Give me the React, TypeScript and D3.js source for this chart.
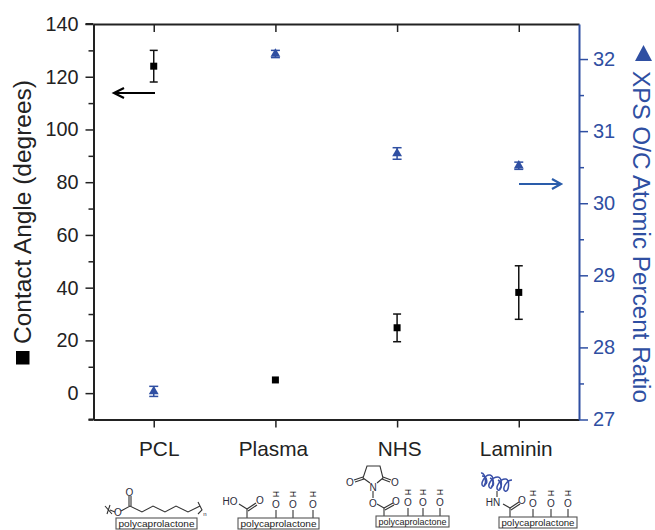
import React, { useEffect, useRef } from 'react';
import * as d3 from 'd3';

const categories = ['PCL', 'Plasma', 'NHS', 'Laminin'];
const contactAngle = [124, 5, 24.8, 38.2];
const contactErrLow = [118, 5, 19.5, 28];
const contactErrHigh = [130, 5, 30, 48.3];
const xpsRatio = [27.39, 32.07, 30.69, 30.52];
const xpsErrLow = [27.32, 32.02, 30.61, 30.47];
const xpsErrHigh = [27.46, 32.12, 30.77, 30.57];
const leftTicks = [0, 20, 40, 60, 80, 100, 120, 140];
const leftMinor = [-10, 10, 30, 50, 70, 90, 110, 130];
const rightTicks = [27, 28, 29, 30, 31, 32];
const rightMinor = [27.5, 28.5, 29.5, 30.5, 31.5];
// the category labels sit a little off their ticks in the original
const labelNudge = [5, -2.5, 2, -3];

const INK = '#222';
const BLUE = '#2f4fa2';
const ARROW_BLUE = '#2a5caa';
const FONT = '"Liberation Sans", Arial, sans-serif';

const margin = { top: 24, right: 76, bottom: 110.5, left: 93.5 };
const width = 655;
const height = 530;

// the little polymer sketches under the axis, in page pixels
function Chem({ x, y, lines, labels, box }: any) {
  return (
    <g transform={`translate(${x},${y})`} fill="none" stroke="#333" strokeWidth={1.1}>
      {lines.map((l: string, i: number) => <path key={i} d={l} />)}
      <rect x={box[0]} y={box[1]} width={box[2]} height={box[3]} fill="#fff" stroke="#555" strokeWidth={1.1} />
      <text x={box[0] + box[2] / 2} y={box[1] + box[3] - 2.4} textAnchor="middle" fontSize={9.8} fontFamily={FONT} fill="#222" stroke="none"
        textLength={box[2] - 5} lengthAdjust="spacingAndGlyphs">
        polycaprolactone
      </text>
      {labels.map((t: any, i: number) => (
        <text key={i} x={t[1]} y={t[2]} textAnchor="middle" fontSize={t[3] || 10} fontFamily={FONT} fill={t[4] || '#2b2b3a'} stroke="none"
          transform={t[5] ? `rotate(${t[5]} ${t[1]} ${t[2] - 3})` : undefined}>{t[0]}</text>
      ))}
    </g>
  );
}

function hydroxyls(xs: number[], base: number) {
  return xs.map((v) => `M${v},${base}V${base - 8}`);
}
function hydroxylLabels(xs: number[], base: number) {
  const out: any[] = [];
  xs.forEach((v) => {
    out.push(['O', v, base - 10.5, 10]);
    out.push(['H', v, base - 21, 8.5, '#111', 90]);
  });
  return out;
}

export default function App() {
  const ref = useRef<SVGGElement>(null);

  useEffect(() => {
    const root = d3.select(ref.current);
    root.selectAll('*').remove();

    const innerW = width - margin.left - margin.right;
    const innerH = height - margin.top - margin.bottom;

    const x = d3.scalePoint<string>().domain(categories).range([0, innerW]).padding(0.495);
    const yLeft = d3.scaleLinear().domain([-10, 140]).range([innerH, 0]);
    const yRight = d3.scaleLinear().domain([27, 32.486]).range([innerH, 0]);

    const plot = root.append('g').attr('transform', `translate(${margin.left},${margin.top})`);

    const style = (g: any, color: string, size: number) => {
      g.selectAll('path').attr('stroke', color).attr('stroke-width', 2);
      g.selectAll('line').attr('stroke', color).attr('stroke-width', 1.5);
      g.selectAll('text').attr('fill', color).attr('font-size', size).attr('font-family', FONT);
    };

    // left axis
    const gl = plot.append('g').call(d3.axisLeft(yLeft).tickValues(leftTicks).tickSize(8).tickSizeOuter(0).tickPadding(7).tickFormat(d3.format('d') as any));
    style(gl, INK, 19.8);
    const glm = plot.append('g').call(d3.axisLeft(yLeft).tickValues(leftMinor).tickSize(5).tickSizeOuter(0).tickFormat(() => ''));
    style(glm, INK, 20);
    glm.select('.domain').remove();

    // bottom and top axes
    const gb = plot.append('g').attr('transform', `translate(0,${innerH})`)
      .call(d3.axisBottom(x).tickSize(8).tickSizeOuter(0).tickPadding(14));
    style(gb, INK, 20.8);
    gb.selectAll('.tick text').attr('dx', (_: any, i: number) => labelNudge[i]);
    const gt = plot.append('g').call(d3.axisTop(x).tickSize(-8).tickSizeOuter(0).tickFormat(() => ''));
    style(gt, INK, 18);
    plot.append('line').attr('x1', -8).attr('x2', 0).attr('y1', 0).attr('y2', 0).attr('stroke', INK).attr('stroke-width', 2);
    plot.append('line').attr('x1', -5).attr('x2', 0).attr('y1', innerH).attr('y2', innerH).attr('stroke', INK).attr('stroke-width', 2);

    // right axis, blue
    const gr = plot.append('g').attr('transform', `translate(${innerW},0)`)
      .call(d3.axisRight(yRight).tickValues(rightTicks).tickSize(9).tickSizeOuter(0).tickPadding(5).tickFormat(d3.format('d') as any));
    style(gr, BLUE, 20);
    const grm = plot.append('g').attr('transform', `translate(${innerW},0)`)
      .call(d3.axisRight(yRight).tickValues(rightMinor).tickSize(5).tickSizeOuter(0).tickFormat(() => ''));
    style(grm, BLUE, 20);
    grm.select('.domain').remove();

    // error bars
    const errorBars = (low: number[], high: number[], y: any, color: string, cap: number, w: number) => {
      const g = plot.append('g').attr('stroke', color).attr('stroke-width', w);
      categories.forEach((c, i) => {
        if (low[i] === high[i]) return;
        const cx = x(c) as number;
        g.append('line').attr('x1', cx).attr('x2', cx).attr('y1', y(low[i])).attr('y2', y(high[i]));
        [low[i], high[i]].forEach((v) => {
          g.append('line').attr('x1', cx - cap).attr('x2', cx + cap).attr('y1', y(v)).attr('y2', y(v));
        });
      });
    };
    errorBars(contactErrLow, contactErrHigh, yLeft, '#111', 4, 1.5);
    errorBars(xpsErrLow, xpsErrHigh, yRight, BLUE, 4.5, 1.5);

    // markers
    plot.append('g').selectAll('rect').data(categories).join('rect')
      .attr('x', (c) => (x(c) as number) - 3.5)
      .attr('y', (_, i) => yLeft(contactAngle[i]) - 3.5)
      .attr('width', 7).attr('height', 7).attr('fill', '#000');
    const tri = d3.symbol().type(d3.symbolTriangle).size(42);
    plot.append('g').selectAll('path').data(categories).join('path')
      .attr('d', () => tri() as string)
      .attr('transform', (c, i) => `translate(${x(c)},${yRight(xpsRatio[i])})`)
      .attr('fill', BLUE);
  }, []);

  return (
    <svg width={width} height={height} style={{ position: 'absolute', left: 0, top: 0, background: '#fff' }}>
      <g ref={ref} />

      {/* annotation arrows */}
      <g fill="none" strokeWidth={2.2}>
        <path d="M155,93H114M124,88L114,93L124,98" stroke="#000" />
        <path d="M519,184H560M552,179L561,184L552,189" stroke={ARROW_BLUE} />
      </g>

      {/* axis titles */}
      <rect x={16} y={351} width={13.5} height={13.5} fill="#000" />
      <text transform="translate(30.5,344) rotate(-90)" fontFamily={FONT} fontSize={23} fill={INK} textLength={264} lengthAdjust="spacingAndGlyphs">Contact Angle (degrees)</text>
      <path d="M643.5,45L652,61H635Z" fill={BLUE} />
      <text transform="translate(633,71) rotate(90)" fontFamily={FONT} fontSize={24.4} fill={BLUE} textLength={332} lengthAdjust="spacingAndGlyphs">XPS O/C Atomic Percent Ratio</text>

      {/* PCL */}
      <Chem x={90} y={440} box={[26, 78, 81, 11]}
        lines={[
          'M15,66L22,74M20,65L17,74', 'M20,70L25,72', 'M31,71L40,66L52,72L63,66L75,72L86,66L98,72L110,66',
          'M39,66V56M41,66V56', 'M108,62L112,70L108,74',
        ]}
        labels={[['O', 28, 76], ['O', 39.5, 55.5], ['n', 115, 76, 6]]} />

      {/* Plasma */}
      <Chem x={90} y={440} box={[148, 78, 81, 11]}
        lines={[
          'M157,78V69', 'M157,69L166,63', 'M158,71L167,65', 'M157,69L149,64',
          ...hydroxyls([186, 203, 223], 78),
        ]}
        labels={[['HO', 140, 65], ['O', 170, 64], ...hydroxylLabels([186, 203, 223], 78)]} />

      {/* NHS */}
      <Chem x={340} y={440} box={[36, 76, 73, 11]}
        lines={[
          'M44,76V68', 'M44,68L53,63', 'M45,70L54,65', 'M44,68L37,64', 'M33,58V51',
          'M30,43L23,38L27,26H40L43,38L37,43', 'M23,37L14,40', 'M24,39L15,42', 'M43,37L51,40', 'M42,39L50,42',
          ...hydroxyls([68, 83, 100], 76),
        ]}
        labels={[['O', 33, 66.5], ['N', 33, 51], ['O', 10, 45.5], ['O', 55, 45.5], ['O', 56, 65], ...hydroxylLabels([68, 83, 100], 76)]} />

      {/* Laminin */}
      <Chem x={340} y={440} box={[159, 77, 78, 11]}
        lines={[
          'M170,77V68', 'M170,68L179,62', 'M171,70L180,64', 'M170,68L163,64', 'M157,57V51',
          ...hydroxyls([193, 211, 228], 77),
        ]}
        labels={[['HN', 153, 66], ['O', 182, 64], ...hydroxylLabels([193, 211, 228], 77)]} />
      <g transform="translate(340,440)" fill="none" stroke="#3a50a8" strokeWidth={1.5}>
        <path d="M141,33C146,32 147,48 143,46C140,44 145,34 150,35C155,36 153,50 150,48C147,46 151,37 158,37C163,37 162,52 158,50C155,48 160,38 166,39C170,40 169,53 165,51C162,49 166,40 172,40" />
        <path d="M142,36C148,36 148,46 144,44M150,38C155,40 154,48 151,46M158,40C162,42 162,50 159,48" />
      </g>
    </svg>
  );
}
